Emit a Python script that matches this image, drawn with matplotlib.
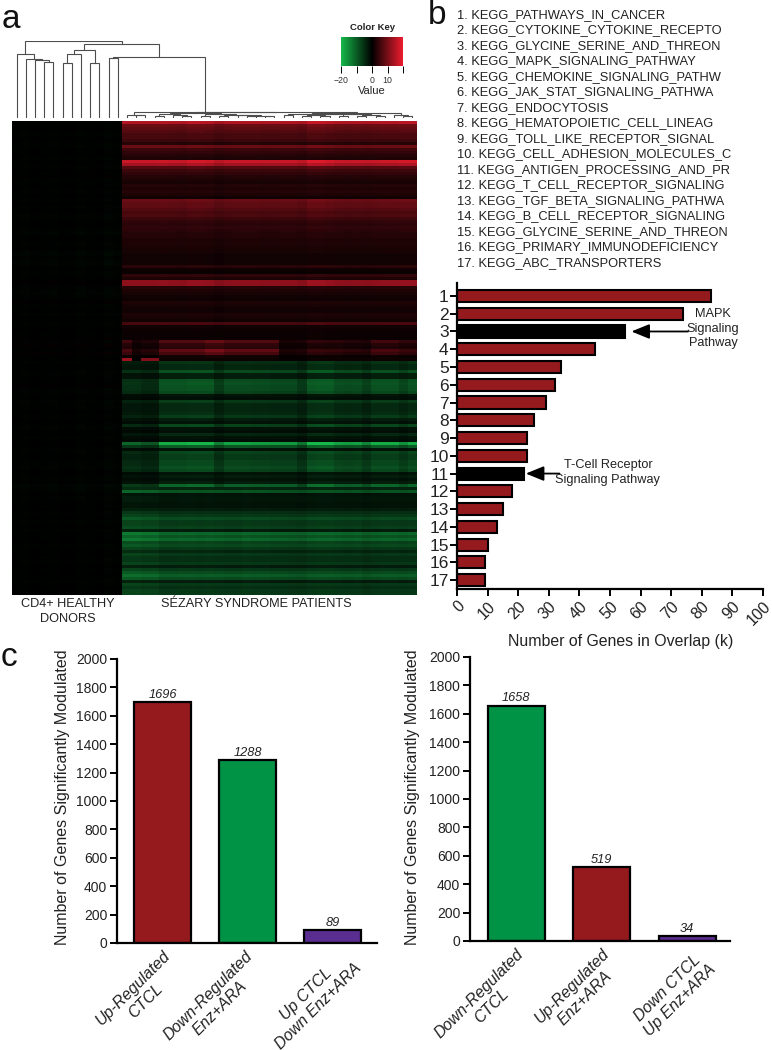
import numpy as np
import matplotlib
matplotlib.use("Agg")
import matplotlib.pyplot as plt
from matplotlib.colors import LinearSegmentedColormap
from matplotlib.transforms import ScaledTranslation

plt.rcParams["font.family"] = ["Liberation Sans", "DejaVu Sans"]

W, H = 772, 1050
RED = "#951a1e"
GREEN = "#009245"
PURPLE = "#5a2d91"
TXT = "#222222"

# ---- heatmap, values, row by row (top -> bottom) ----
red_rows = [15, 9, 8, 7, 6, 6, 5, 3, 9, 5, 4, 3, 2.5, 17, 14, 7, 5, 4, 3, 2.5,
            2, 3, 2.5, 3, 2.5, 1.5, 9, 8, 8, 7, 6, 6.5, 5, 4, 3.5, 4, 3.5, 3, 3, 2.5,
            2.5, 2.5, 2, 2, 1.5, 1.5, 1.5, 1.5, 3.5, 1.2, 0.8, 4, 2.5, 12, 12, 3, 2.5, 2, 1.5, 1.2,
            2.5, 2, 1.5, 1.5, 2.5, 2, 1.5, 6, 1.5, 1.2, 1, 1, 1, 7, 4, 3.5, 8, 6, 1.5, 6]
green_rows = [-5, -4, -4, -8, -3, -3, -8, -8.5, -8, -8, -7, -2, -1.5, -6, -4, -4, -4, -4.5, -6, -3,
              -2, -7, -2, -1.5, -4, -2, -1.5, -17, -9, -2, -7, -6, -6, -7, -7, -8, -7, -2, -3, -2,
              -3, -10, -4, -9, -2, -2.5, -2.5, -2, -2, -3, -5, -6, -8, -6, -6, -7, -3, -11, -9, -11,
              -7, -8, -6, -4, -6, -5, -5, -6, -3, -6, -8, -10, -8, -3, -6, -5, -6, -6]
donor_rows = [-.3, -.4, -.2, -.3, -.5, -.3, -.2, -.4, -.5, -.3, -.3, -.2, -.4, -.3, -.3, -.5, -.2, -.3, .3, -.4,
              -.3, -.3, -.2, -.5, -.3, -.3, -.4, -.2, -.5, -.3, -.3, -.6, -.4, -.3, -.2, -.3, -.5, -.7, -.3, -.3,
              -.4, -.5, -.3, -.7, -.8, -.4, -.6, -.8, -.5, -.3, -.5, -.4, -.3, .2, .2, -.5, -.6, -.7, -.5, -.3,
              .3, -.4, -.3, -.3, -.5, -.2, -.3, -.4, -.3, -.2, -.3, -.3, .3, -.4, .4, .3, -.3, .4, -.3, -.2,
              -.4, -.3, -.3, -.5, -.4, -.3, -.3, -.2, .3, -.4, -.5, -.3, -.3, -.6, -.4, -.5, -.3, -.3, -.4, -.2,
              -.3, -.5, -.6, -.3, -.3, -.4, -.3, -.2, -.3, -.4, -.5, -.3, -.3, -.4, -.5, -.6, -.3, -.3, -.4, -.5,
              -.3, -.9, -.7, -.5, -.3, -.5, -.4, -.3, -.3, -.2, -.4, -.3, -.3, -.5, -.3, -.2, -.4, -.3, -.3, -.3,
              -.2, -.4, -.3, -.3, -.2, -.3, -.4, -.3, -.2, -.3, -.3, -.2, -.3, -.4, -.3, -.2, -.3, -.2]
donor_cols = [.6, .8, .5, .6, .9, .4, .5, 1.0, .6, .5, 1.2, .7]
red_cols = [1.0, 1.0, 1.0, 1.0, 1.02, 1.0, .98, 1.05, 1.05, 1.02, .92, .98, 1.0, 1.0, 1.0, .98,
            .98, 1.0, 1.0, .95, 1.1, 1.1, 1.05, 1.0, .98, 1.0, .98, 1.0, 1.02, 1.02, 1.05, 1.05]
red_tail_cols = [.8, .25, .4, .4, 1.0, 1.0, 1.0, 1.0, 1.0, 1.25, 1.25, 1.0, 1.0, 1.0, 1.0, 1.0,
                 1.0, .3, .3, .35, .6, .6, .55, .55, .45, .45, .4, .8, .8, .8, .6, .6]
red_last_cols = [2.2, 0, 1.8, 1.8, .2, .2, .2, .2, .2, .2, .2, .2, .2, .2, .2, .2,
                 .2, .1, .1, .1, .2, .2, .2, .2, .2, .2, .2, .2, .2, .2, .2, .2]
green_cols = [.65, .65, .55, .55, 1.1, 1.1, 1.1, 1.15, 1.15, 1.15, .8, 1.03, 1.03, 1.03, 1.0, 1.0,
              .97, .97, .97, .75, 1.18, 1.22, 1.22, 1.03, 1.0, 1.03, .85, 1.1, 1.1, 1.1, .92, 1.1]
green_low_cols = [1.2, 1.2, 1.15, 1.15, 1.0, 1.0, 1.03, 1.03, 1.0, 1.03, 1.0, .97, .97, 1.03, 1.0, 1.0,
                  .97, .97, .95, .92, 1.0, 1.03, 1.03, 1.0, .97, 1.0, .92, .97, 1.0, 1.0, .97, 1.0]
RED_TAIL_FROM = 73
GREEN_LOW_FROM = 42

# ---- dendrogram merges: (height, left, right), None = leaf ----
L = None
patient_tree = (18,
                (10, L, (8, L, L)),
                (17,
                 (14,
                  (11, (7, L, L), (8, L, (5, L, L))),
                  (12, (6, L, L), (9, (5, L, L), (9, L, (7, (5, L, L), (5, L, L)))))),
                 (15,
                  (13, (8, L, L),
                   (12, (9, (5, L, L), (6, L, L)),
                    (11, (7, L, L), (10, (5, L, L), (7, L, L))))),
                  (9, L, (6, L, L)))))
donor_tree = (233,
              (193, L, (180, L, (175, L, (169, L, L)))),
              (224,
               (205, (195, (165, L, L), L), (165, L, L)),
               (185, (183, L, L), patient_tree)))

# ---- panel b ----
kegg_names = ["1. KEGG_PATHWAYS_IN_CANCER", "2. KEGG_CYTOKINE_CYTOKINE_RECEPTO",
              "3. KEGG_GLYCINE_SERINE_AND_THREON", "4. KEGG_MAPK_SIGNALING_PATHWAY",
              "5. KEGG_CHEMOKINE_SIGNALING_PATHW", "6. KEGG_JAK_STAT_SIGNALING_PATHWA",
              "7. KEGG_ENDOCYTOSIS", "8. KEGG_HEMATOPOIETIC_CELL_LINEAG",
              "9. KEGG_TOLL_LIKE_RECEPTOR_SIGNAL", "10. KEGG_CELL_ADHESION_MOLECULES_C",
              "11. KEGG_ANTIGEN_PROCESSING_AND_PR", "12. KEGG_T_CELL_RECEPTOR_SIGNALING",
              "13. KEGG_TGF_BETA_SIGNALING_PATHWA", "14. KEGG_B_CELL_RECEPTOR_SIGNALING",
              "15. KEGG_GLYCINE_SERINE_AND_THREON", "16. KEGG_PRIMARY_IMMUNODEFICIENCY",
              "17. KEGG_ABC_TRANSPORTERS"]
overlap = [83, 74, 55, 45, 34, 32, 29, 25, 23, 23, 22, 18, 15, 13, 10, 9, 9]
highlight = [3, 11]

# ---- panel c ----
left_labels = ["Up-Regulated\nCTCL", "Down-Regulated\nEnz+ARA", "Up CTCL\nDown Enz+ARA"]
left_values = [1696, 1288, 89]
left_colors = [RED, GREEN, PURPLE]
right_labels = ["Down-Regulated\nCTCL", "Up-Regulated\nEnz+ARA", "Down CTCL\nUp Enz+ARA"]
right_values = [1658, 519, 34]
right_colors = [GREEN, RED, PURPLE]


def px_axes(fig, x0, top, x1, bottom):
    return fig.add_axes([x0 / W, 1 - bottom / H, (x1 - x0) / W, (bottom - top) / H])


def px_text(fig, x, y, s, **kw):
    kw.setdefault("color", TXT)
    return fig.text(x / W, 1 - y / H, s, **kw)


def draw_tree(ax, node, next_leaf):
    # devuelve (x, altura) del nodo
    if node is None:
        x = next_leaf[0] + 0.5
        next_leaf[0] += 1
        return x, 0
    h, left, right = node
    xl, hl = draw_tree(ax, left, next_leaf)
    xr, hr = draw_tree(ax, right, next_leaf)
    ax.plot([xl, xl, xr, xr], [hl, h, h, hr], color="#4d4d4d", lw=0.8, solid_joinstyle="miter")
    return (xl + xr) / 2, h


def panel_heatmap(fig, cmap):
    ax = px_axes(fig, 12, 121, 417, 595)
    patients = np.zeros((len(red_rows) + len(green_rows), len(red_cols)))
    for i, v in enumerate(red_rows):
        patients[i] = v * np.array(red_tail_cols if i >= RED_TAIL_FROM else red_cols)
    patients[len(red_rows) - 1] = red_rows[-1] * np.array(red_last_cols)
    for i, v in enumerate(green_rows):
        patients[i + len(red_rows)] = v * np.array(green_low_cols if i >= GREEN_LOW_FROM else green_cols)
    donors = np.outer(donor_rows, donor_cols)
    ax.imshow(np.hstack([donors, patients]), aspect="auto", cmap=cmap, vmin=-20, vmax=20,
              interpolation="nearest")
    ax.axis("off")

    dn = px_axes(fig, 12, 41, 417, 118)
    draw_tree(dn, donor_tree, [0])
    dn.set_xlim(0, len(donor_cols) + len(red_cols))
    dn.set_ylim(0, 233)
    dn.axis("off")

    key = px_axes(fig, 341, 37, 403, 66)
    key.imshow(np.linspace(-20, 20, 200)[None, :], aspect="auto", cmap=cmap, vmin=-20, vmax=20,
               extent=[-20, 20, 0, 1])
    key.set_yticks([])
    key.set_xticks([-20, -10, 0, 10, 20], ["\u221220", "", "0", "10", ""])
    key.tick_params(axis="x", length=5, width=0.7, pad=2, labelsize=6.3, labelcolor="#333333")
    for s in key.spines.values():
        s.set_visible(False)
    px_text(fig, 372, 28, "Color Key", fontsize=6.8, fontweight="bold", ha="center", va="center")
    px_text(fig, 372, 91, "Value", fontsize=8, ha="center", va="center")

    px_text(fig, 68, 604, "CD4+ HEALTHY", fontsize=9.2, ha="center", va="center")
    px_text(fig, 68, 619, "DONORS", fontsize=9.2, ha="center", va="center")
    px_text(fig, 256, 604, "S\u00c9ZARY SYNDROME PATIENTS", fontsize=9.2, ha="center", va="center")


def panel_overlap(fig):
    for i, name in enumerate(kegg_names):
        px_text(fig, 457, 15 + 15.5 * i, name, fontsize=9.3, ha="left", va="center")

    ax = px_axes(fig, 457, 283, 763, 589)
    pos = np.arange(1, len(overlap) + 1)
    colors = ["black" if p in highlight else RED for p in pos]
    ax.barh(pos, overlap, height=0.68, color=colors, edgecolor="black", linewidth=1.5)
    ax.set_xlim(0, 100)
    ax.set_ylim(17.5, 0.27)
    ax.set_yticks(pos, [str(p) for p in pos])
    ax.set_xticks(np.arange(0, 101, 10), [str(v) for v in range(0, 101, 10)])
    ax.tick_params(axis="y", length=5, width=1.4, pad=1, labelsize=12.5, labelcolor=TXT)
    ax.tick_params(axis="x", length=5, width=1.4, pad=2, labelsize=11.5, labelcolor=TXT)
    plt.setp(ax.get_xticklabels(), rotation=45, ha="right", rotation_mode="anchor")
    ax.set_xlabel("Number of Genes in Overlap (k)", fontsize=11.4, color=TXT)
    ax.xaxis.set_label_coords(0.536, -0.148)
    for s in ("top", "right"):
        ax.spines[s].set_visible(False)
    for s in ("left", "bottom"):
        ax.spines[s].set_linewidth(1.6)

    arrow = dict(arrowstyle="-|>,head_length=1.1,head_width=0.45", color="black", lw=1.3, shrinkA=0, shrinkB=0)
    ax.annotate("", xy=(57, 3), xytext=(75.5, 3), arrowprops=arrow)
    ax.annotate("", xy=(22.5, 11), xytext=(33.5, 11), arrowprops=arrow)
    for txt, y in (("MAPK", 314), ("Signaling", 329), ("Pathway", 343)):
        px_text(fig, 713, y, txt, fontsize=9.2, ha="center", va="center")
    px_text(fig, 608, 465, "T-Cell Receptor", fontsize=9.2, ha="center", va="center")
    px_text(fig, 607, 480, "Signaling Pathway", fontsize=9.2, ha="center", va="center")


def panel_counts(fig, box, xlim, labels, values, colors, label_shift):
    ax = px_axes(fig, *box)
    x = np.arange(len(values))
    ax.bar(x, values, width=0.67, color=colors, edgecolor="black", linewidth=1.6)
    ax.set_xlim(*xlim)
    ax.set_ylim(0, 2000)
    ax.set_yticks(np.arange(0, 2001, 200))
    ax.set_xticks(x, labels)
    ax.tick_params(axis="y", length=5, width=1.4, pad=2, labelsize=10, labelcolor=TXT)
    ax.tick_params(axis="x", length=0, pad=6, labelcolor=TXT)
    plt.setp(ax.get_xticklabels(), rotation=45, ha="right", rotation_mode="anchor", style="italic",
             fontsize=11.4, multialignment="center")
    for t, (dx, dy) in zip(ax.get_xticklabels(), label_shift):
        t.set_transform(t.get_transform() + ScaledTranslation(dx / 100, dy / 100, fig.dpi_scale_trans))
    for xi, v in zip(x, values):
        ax.text(xi, v + 8, str(v), ha="center", va="bottom", style="italic", fontsize=9.2, color=TXT)
    ax.set_ylabel("Number of Genes Significantly Modulated", fontsize=11.5, color=TXT)
    ax.yaxis.set_label_coords((70 - box[0]) / 260, (box[3] - 797) / 284)
    for s in ("top", "right"):
        ax.spines[s].set_visible(False)
    for s in ("left", "bottom"):
        ax.spines[s].set_linewidth(1.6)


def main():
    fig = plt.figure(figsize=(W / 100, H / 100), dpi=100)
    cmap = LinearSegmentedColormap.from_list("key", ["#16b84a", "#000000", "#ec1c2e"])

    panel_heatmap(fig, cmap)
    panel_overlap(fig)
    panel_counts(fig, (117, 659, 377, 943), (-0.535, 2.525), left_labels, left_values, left_colors,
                 [(0, 3), (-3, 3), (9, 3)])
    panel_counts(fig, (470, 657, 730, 941), (-0.54, 2.5), right_labels, right_values, right_colors,
                 [(0, 3), (0, 3), (8, 0)])
    # el eje derecho lleva la etiqueta a x=420
    fig.axes[-1].yaxis.set_label_coords((420 - 470) / 260, (941 - 797) / 284)

    px_text(fig, 11, 20, "a", fontsize=24, ha="center", va="center", color="#111111")
    px_text(fig, 437, 16, "b", fontsize=24, ha="center", va="center", color="#111111")
    px_text(fig, 9, 657, "c", fontsize=24, ha="center", va="center", color="#111111")

    fig.savefig("out.png", dpi=100)
    plt.close(fig)


if __name__ == "__main__":
    main()
